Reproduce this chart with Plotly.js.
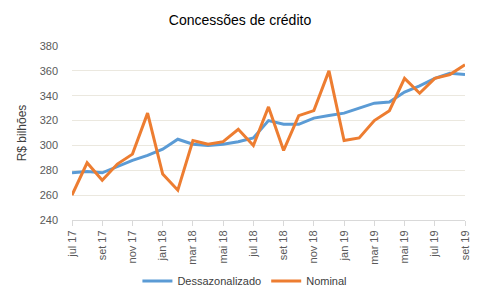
<!DOCTYPE html>
<html>
<head>
<meta charset="utf-8">
<script src="https://cdn.plot.ly/plotly-3.0.1.min.js"></script>
<style>html,body{margin:0;padding:0;background:#fff}#chart{width:480px;height:307px}</style>
</head>
<body>
<div id="chart"></div>
<script>
const months = ["jul 17","ago 17","set 17","out 17","nov 17","dez 17","jan 18","fev 18","mar 18","abr 18","mai 18","jun 18","jul 18","ago 18","set 18","out 18","nov 18","dez 18","jan 19","fev 19","mar 19","abr 19","mai 19","jun 19","jul 19","ago 19","set 19"];
const dessazonalizado = [278,279,278,283,288,292,297,305,301,300,301,303,306,320,317,317,322,324,326,330,334,335,343,348,354,358,357];
const nominal = [260,286,272,285,293,326,277,264,304,301,303,313,300,331,296,324,328,360,304,306,320,328,354,342,354,357,365];
const tickLabels = months.filter((m, i) => i % 2 === 0);

const traces = [
  {x: months, y: dessazonalizado, type: 'scatter', mode: 'lines', name: 'Dessazonalizado',
   line: {color: '#5b9bd5', width: 3}},
  {x: months, y: nominal, type: 'scatter', mode: 'lines', name: 'Nominal',
   line: {color: '#ed7d31', width: 3}}
];

const layout = {
  width: 480, height: 307,
  margin: {l: 72, r: 15, t: 46, b: 83},
  paper_bgcolor: '#fff', plot_bgcolor: '#fff',
  font: {family: 'Liberation Sans, Arial, sans-serif', color: '#595959', size: 11},
  title: {text: 'Concessões de crédito', font: {size: 14, color: '#000'}, x: 0.5, xanchor: 'center', y: 0.935, yanchor: 'middle'},
  xaxis: {type: 'category', range: [0, 26], tickvals: tickLabels, ticktext: tickLabels,
    tickangle: -90, ticks: 'outside', ticklen: 5, tickcolor: '#d9d9d9',
    showline: true, linecolor: '#d9d9d9', showgrid: false, zeroline: false,
    tickfont: {size: 11, color: '#595959'}},
  yaxis: {range: [240, 380], dtick: 20, showgrid: true, gridcolor: '#ebe8df', zeroline: false,
    showline: false, ticks: '', ticklabelstandoff: 13, tickfont: {size: 11, color: '#595959'},
    title: {text: 'R$ bilhões', font: {size: 12, color: '#404040'}, standoff: 10}},
  legend: {orientation: 'h', x: 0.44, xanchor: 'center', y: -0.35, yanchor: 'middle',
    font: {size: 11, color: '#404040'}},
  showlegend: true
};

Plotly.newPlot('chart', traces, layout, {displayModeBar: false, staticPlot: true});
</script>
</body>
</html>
